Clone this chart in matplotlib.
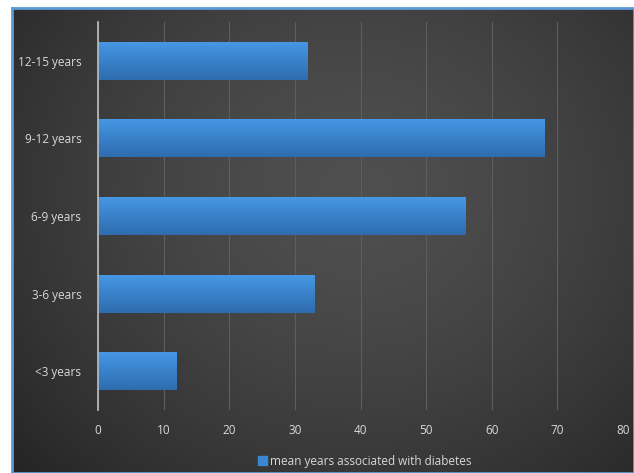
import numpy as np
import matplotlib
matplotlib.use('Agg')
import matplotlib.pyplot as plt
from matplotlib.patches import Patch

plt.rcParams['font.family'] = ['Open Sans', 'DejaVu Sans']

categories = ['<3 years', '3-6 years', '6-9 years', '9-12 years', '12-15 years']
values = [12, 33, 56, 68, 32]
series_name = 'mean years associated with diabetes'
xticks = [0, 10, 20, 30, 40, 50, 60, 70, 80]

W, H = 634, 473
fig = plt.figure(figsize=(W / 100, H / 100), dpi=100)
fig.patch.set_facecolor('white')

# dark radial background with blue frame
bg = fig.add_axes([12 / W, 0, 1 - 12 / W, 1 - 8 / H])
yy, xx = np.mgrid[0:1:300j, 0:1:400j]
r = np.sqrt(((xx - 0.55) / 0.75) ** 2 + ((yy - 0.4) / 0.9) ** 2)
shade = np.clip(0.31 - 0.17 * r ** 1.5, 0.13, 0.31)
img = np.dstack([shade, shade, shade])
bg.imshow(img, extent=[0, 1, 0, 1], aspect='auto', origin='upper')
bg.set_xticks([])
bg.set_yticks([])
for s in bg.spines.values():
    s.set_color('#5b9bd5')
    s.set_linewidth(2)

ax = fig.add_axes([98 / W, 1 - 410 / H, (623 - 98) / W, (410 - 22) / H])
ax.set_facecolor('none')
pos = np.arange(len(categories))
bars = ax.barh(pos, values, height=0.49, color='#3b86d3', zorder=3)

# vertical gradient on every bar
grad = np.linspace(0, 1, 50).reshape(-1, 1)
top = np.array([0x46, 0x98, 0xe6]) / 255
bot = np.array([0x2e, 0x6c, 0xae]) / 255
gimg = top + (bot - top) * grad[:, :, None]
for b, v in zip(bars, values):
    y0 = b.get_y()
    im = ax.imshow(gimg, extent=[0, v, y0, y0 + b.get_height()], aspect='auto',
                   origin='upper', zorder=4)
    im.set_clip_path(b)

ax.set_xlim(0, 80)
ax.set_ylim(-0.5, len(categories) - 0.5)
ax.set_xticks(xticks)
ax.set_yticks(pos)
ax.set_yticklabels(categories)
ax.tick_params(colors='#d9d9d9', labelsize=8.5, length=0)
ax.tick_params(axis='y', pad=12)
ax.tick_params(axis='x', pad=10)
ax.grid(axis='x', color='#5e5e5e', linewidth=0.8, zorder=0)
for k, s in ax.spines.items():
    s.set_visible(k == 'left')
ax.spines['left'].set_color('#bfbfbf')
ax.spines['left'].set_linewidth(1.2)
ax.spines['left'].set_zorder(5)

leg = fig.legend(handles=[Patch(color='#3b86d3', label=series_name)],
                 loc='center', bbox_to_anchor=(365 / W, 1 - 461 / H),
                 frameon=False, fontsize=8.5, handlelength=0.7, handleheight=0.7,
                 handletextpad=0.3)
for t in leg.get_texts():
    t.set_color('#d9d9d9')

fig.savefig('out.png', dpi=100)
